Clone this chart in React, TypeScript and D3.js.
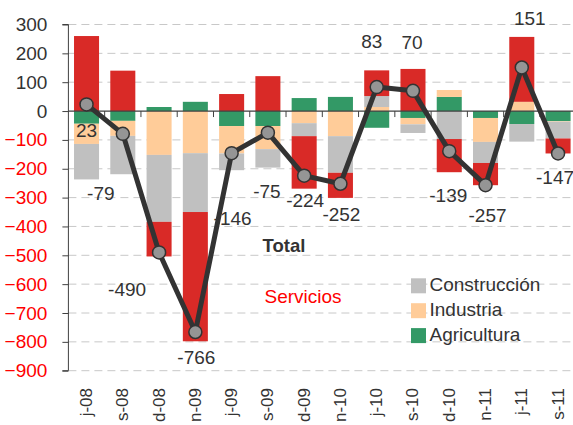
import React, { useEffect, useRef } from 'react'
import * as d3 from 'd3'

const categories = ['j-08', 's-08', 'd-08', 'n-09', 'j-09', 's-09', 'd-09', 'n-10', 'j-10', 's-10', 'd-10', 'n-11', 'j-11', 's-11']
const agricultura = [-44, -34, 14, 32, -52, -52, 45, 49, -58, -24, 49, -24, -45, -35]
const industria = [-70, -52, -152, -146, -95, -80, -42, -87, 14, -22, 24, -83, 32, -2]
const construccion = [-123, -133, -232, -204, -58, -64, -45, -127, 38, -30, -97, -73, -61, -58]
const servicios = [260, 140, -120, -448, 59, 121, -182, -87, 89, 146, -115, -77, 225, -52]
const total = [23, -79, -490, -766, -146, -75, -224, -252, 83, 70, -139, -257, 151, -147]
const yTicks = [300, 200, 100, 0, -100, -200, -300, -400, -500, -600, -700, -800, -900]

// manual label placement (offset from the point), like the original chart
const labelOffsets = [[0, 33], [-22, 66], [-32, 44], [1, 32], [1, 72], [-1, 65], [1, 31], [1, 37], [-5, -39], [-1, -42], [-1, 51], [2, 37], [8, -42], [-3, 31]]

const keys = ['agricultura', 'industria', 'construccion', 'servicios']
const colors = {
  agricultura: '#339966',
  industria: '#FFCC99',
  construccion: '#C0C0C0',
  servicios: '#D92A27'
}

const W = 573
const H = 425
const margin = { top: 24.5, left: 68.4, right: -3.2, bottom: 54.3 }
const FONT = '"Liberation Sans", Arial, sans-serif'

export default function App () {
  const root = useRef(null)

  useEffect(() => {
    const svg = d3.select(root.current)
    svg.selectAll('*').remove()

    const x = d3.scaleBand()
      .domain(categories)
      .range([margin.left, W - margin.right])
      .paddingInner(0.31)
      .paddingOuter(0.155)
    const y = d3.scaleLinear()
      .domain([-900, 300])
      .range([H - margin.bottom, margin.top])

    // gridlines
    svg.append('g')
      .selectAll('line')
      .data(yTicks.filter((d) => d !== 0))
      .enter().append('line')
      .attr('x1', margin.left)
      .attr('x2', W)
      .attr('y1', (d) => y(d))
      .attr('y2', (d) => y(d))
      .attr('stroke', '#C8C8C8')
      .attr('stroke-width', 1)
      .attr('stroke-dasharray', '8,5')

    // stacked bars
    const table = categories.map((c, i) => ({
      cat: c,
      agricultura: agricultura[i],
      industria: industria[i],
      construccion: construccion[i],
      servicios: servicios[i]
    }))
    const series = d3.stack().keys(keys).offset(d3.stackOffsetDiverging)(table)

    svg.append('g')
      .selectAll('g')
      .data(series)
      .enter().append('g')
      .attr('fill', (s) => colors[s.key])
      .selectAll('rect')
      .data((s) => s)
      .enter().append('rect')
      .attr('x', (d) => x(d.data.cat))
      .attr('width', x.bandwidth())
      .attr('y', (d) => y(Math.max(d[0], d[1])))
      .attr('height', (d) => Math.abs(y(d[0]) - y(d[1])))

    // y axis
    const yAxis = svg.append('g')
      .attr('transform', `translate(${margin.left},0)`)
      .call(d3.axisLeft(y).tickValues(yTicks).tickSize(6).tickPadding(15).tickFormat(d3.format('d')))
    yAxis.select('.domain').attr('stroke', '#404040').attr('d', `M-6,${y(300)}H0V${y(-900)}H-6`)
    yAxis.selectAll('.tick line').attr('stroke', '#404040')
    yAxis.selectAll('.tick text')
      .attr('font-family', FONT)
      .attr('font-size', 19)
      .attr('fill', (d) => d < 0 ? '#FF0000' : '#333333')

    // zero line with category ticks
    const xAxis = svg.append('g')
      .attr('transform', `translate(0,${y(0)})`)
    xAxis.append('line')
      .attr('x1', margin.left)
      .attr('x2', W)
      .attr('stroke', '#404040')
      .attr('stroke-width', 1.3)
    xAxis.selectAll('.ctick')
      .data(categories.slice(1))
      .enter().append('line')
      .attr('class', 'ctick')
      .attr('x1', (d) => x(d) - x.step() * 0.155)
      .attr('x2', (d) => x(d) - x.step() * 0.155)
      .attr('y1', 0)
      .attr('y2', 6)
      .attr('stroke', '#404040')

    // category labels
    svg.append('g')
      .selectAll('text')
      .data(categories)
      .enter().append('text')
      .attr('transform', (d) => `translate(${x(d) + x.bandwidth() / 2 + 5.5},388) rotate(-90)`)
      .attr('text-anchor', 'end')
      .attr('font-family', FONT)
      .attr('font-size', 17)
      .attr('fill', '#333333')
      .text((d) => d)

    // total line
    const cx = (i) => x(categories[i]) + x.bandwidth() / 2
    const line = d3.line()
      .x((d, i) => cx(i))
      .y((d) => y(d))
    svg.append('path')
      .datum(total)
      .attr('d', line)
      .attr('fill', 'none')
      .attr('stroke', '#333333')
      .attr('stroke-width', 5)
      .attr('stroke-linejoin', 'round')
    svg.append('g')
      .selectAll('circle')
      .data(total)
      .enter().append('circle')
      .attr('cx', (d, i) => cx(i))
      .attr('cy', (d) => y(d))
      .attr('r', 6.5)
      .attr('fill', '#959595')
      .attr('stroke', '#333333')
      .attr('stroke-width', 1.5)

    svg.append('g')
      .selectAll('text')
      .data(total)
      .enter().append('text')
      .attr('x', (d, i) => cx(i) + labelOffsets[i][0])
      .attr('y', (d, i) => y(d) + labelOffsets[i][1])
      .attr('text-anchor', 'middle')
      .attr('font-family', FONT)
      .attr('font-size', 19)
      .attr('fill', '#333333')
      .text((d) => d)

    // series names
    svg.append('text')
      .attr('x', 284)
      .attr('y', 252)
      .attr('text-anchor', 'middle')
      .attr('font-family', FONT)
      .attr('font-size', 18.5)
      .attr('font-weight', 'bold')
      .attr('fill', '#333333')
      .text('Total')
    svg.append('text')
      .attr('x', 303)
      .attr('y', 303)
      .attr('text-anchor', 'middle')
      .attr('font-family', FONT)
      .attr('font-size', 19)
      .attr('fill', '#FF0000')
      .text('Servicios')

    const legendItems = [
      ['construccion', 'Construcción'],
      ['industria', 'Industria'],
      ['agricultura', 'Agricultura']
    ]
    const legend = svg.append('g')
      .selectAll('g')
      .data(legendItems)
      .enter().append('g')
      .attr('transform', (d, i) => `translate(411,${278.3 + i * 24.9})`)
    legend.append('rect')
      .attr('width', 15)
      .attr('height', 15)
      .attr('fill', (d) => colors[d[0]])
    legend.append('text')
      .attr('x', 18.5)
      .attr('y', 12.5)
      .attr('font-family', FONT)
      .attr('font-size', 19)
      .attr('fill', '#333333')
      .text((d) => d[1])
  }, [])

  return (
    <svg ref={root} width={W} height={H} style={{ position: 'absolute', left: 0, top: 0, background: '#fff' }} />
  )
}
